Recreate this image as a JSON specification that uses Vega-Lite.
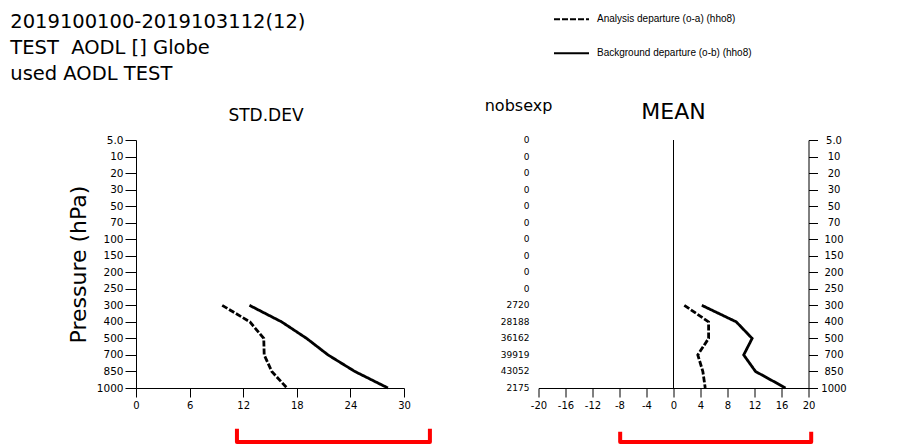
{
  "$schema": "https://vega.github.io/schema/vega-lite/v6.json",
  "background": "white",
  "padding": {"left": 10, "top": 0, "right": 5, "bottom": 0},
  "config": {
    "font": "DejaVu Sans",
    "view": {"stroke": null},
    "axis": {
      "grid": false,
      "domainColor": "black",
      "tickColor": "black",
      "labelColor": "black",
      "titleColor": "black",
      "domainWidth": 1,
      "tickWidth": 1,
      "labelFont": "DejaVu Sans",
      "labelFontSize": 10,
      "labelOverlap": false,
      "labelFlush": false,
      "tickSize": 9
    },
    "title": {"color": "black", "fontWeight": "normal", "font": "DejaVu Sans"}
  },
  "title": {
    "text": ["2019100100-2019103112(12)", "TEST\u00a0 AODL [] Globe", "used AODL TEST"],
    "anchor": "start",
    "frame": "bounds",
    "fontSize": 19.5,
    "lineHeight": 26,
    "dx": -57,
    "dy": 88
  },
  "datasets": {
    "profiles": [
      {"stat": "STD.DEV", "series": "Analysis departure (o-a) (hho8)", "pressure": 300, "value": 9.65},
      {"stat": "STD.DEV", "series": "Analysis departure (o-a) (hho8)", "pressure": 400, "value": 12.75},
      {"stat": "STD.DEV", "series": "Analysis departure (o-a) (hho8)", "pressure": 500, "value": 14.3},
      {"stat": "STD.DEV", "series": "Analysis departure (o-a) (hho8)", "pressure": 700, "value": 14.35},
      {"stat": "STD.DEV", "series": "Analysis departure (o-a) (hho8)", "pressure": 850, "value": 15.2},
      {"stat": "STD.DEV", "series": "Analysis departure (o-a) (hho8)", "pressure": 1000, "value": 16.9},
      {"stat": "STD.DEV", "series": "Background departure (o-b) (hho8)", "pressure": 300, "value": 12.7},
      {"stat": "STD.DEV", "series": "Background departure (o-b) (hho8)", "pressure": 400, "value": 16.3},
      {"stat": "STD.DEV", "series": "Background departure (o-b) (hho8)", "pressure": 500, "value": 19.1},
      {"stat": "STD.DEV", "series": "Background departure (o-b) (hho8)", "pressure": 700, "value": 21.5},
      {"stat": "STD.DEV", "series": "Background departure (o-b) (hho8)", "pressure": 850, "value": 24.5},
      {"stat": "STD.DEV", "series": "Background departure (o-b) (hho8)", "pressure": 1000, "value": 28.2},
      {"stat": "MEAN", "series": "Analysis departure (o-a) (hho8)", "pressure": 300, "value": 1.6},
      {"stat": "MEAN", "series": "Analysis departure (o-a) (hho8)", "pressure": 400, "value": 5.2},
      {"stat": "MEAN", "series": "Analysis departure (o-a) (hho8)", "pressure": 500, "value": 5.2},
      {"stat": "MEAN", "series": "Analysis departure (o-a) (hho8)", "pressure": 700, "value": 3.6},
      {"stat": "MEAN", "series": "Analysis departure (o-a) (hho8)", "pressure": 850, "value": 4.35},
      {"stat": "MEAN", "series": "Analysis departure (o-a) (hho8)", "pressure": 1000, "value": 4.7},
      {"stat": "MEAN", "series": "Background departure (o-b) (hho8)", "pressure": 300, "value": 4.2},
      {"stat": "MEAN", "series": "Background departure (o-b) (hho8)", "pressure": 400, "value": 9.3},
      {"stat": "MEAN", "series": "Background departure (o-b) (hho8)", "pressure": 500, "value": 11.65},
      {"stat": "MEAN", "series": "Background departure (o-b) (hho8)", "pressure": 700, "value": 10.4},
      {"stat": "MEAN", "series": "Background departure (o-b) (hho8)", "pressure": 850, "value": 12.15},
      {"stat": "MEAN", "series": "Background departure (o-b) (hho8)", "pressure": 1000, "value": 16.6}
    ],
    "counts": [
      {"pressure": 5, "nobs": 0},
      {"pressure": 10, "nobs": 0},
      {"pressure": 20, "nobs": 0},
      {"pressure": 30, "nobs": 0},
      {"pressure": 50, "nobs": 0},
      {"pressure": 70, "nobs": 0},
      {"pressure": 100, "nobs": 0},
      {"pressure": 150, "nobs": 0},
      {"pressure": 200, "nobs": 0},
      {"pressure": 250, "nobs": 0},
      {"pressure": 300, "nobs": 2720},
      {"pressure": 400, "nobs": 28188},
      {"pressure": 500, "nobs": 36162},
      {"pressure": 700, "nobs": 39919},
      {"pressure": 850, "nobs": 43052},
      {"pressure": 1000, "nobs": 2175}
    ],
    "header": [
      {"pressure": 5, "label": "nobsexp"}
    ],
    "brackets": [
      {"stat": "STD.DEV", "step": 1, "x": 11.3, "depth": -0.164},
      {"stat": "STD.DEV", "step": 2, "x": 11.3, "depth": -0.218},
      {"stat": "STD.DEV", "step": 3, "x": 32.9, "depth": -0.218},
      {"stat": "STD.DEV", "step": 4, "x": 32.9, "depth": -0.164},
      {"stat": "MEAN", "step": 1, "x": -7.9, "depth": -0.176},
      {"stat": "MEAN", "step": 2, "x": -7.9, "depth": -0.218},
      {"stat": "MEAN", "step": 3, "x": 20.4, "depth": -0.218},
      {"stat": "MEAN", "step": 4, "x": 20.4, "depth": -0.176}
    ]
  },
  "bounds": "flush",
  "spacing": 134.5,
  "resolve": {
    "scale": {"x": "independent", "y": "independent", "strokeDash": "shared"},
    "legend": {"strokeDash": "shared"}
  },
  "hconcat": [
    {
      "width": 268,
      "height": 248,
      "title": {"text": "STD.DEV", "fontSize": 17, "offset": 10, "dx": -4},
      "resolve": {"scale": {"y": "independent"}},
      "layer": [
        {
          "data": {"name": "profiles"},
          "transform": [{"filter": "datum.stat === 'STD.DEV'"}],
          "mark": {"type": "line", "color": "black", "strokeWidth": 2.8},
          "encoding": {
            "x": {
              "field": "value",
              "type": "quantitative",
              "scale": {"domain": [0, 30], "nice": false, "zero": false, "padding": 0},
              "axis": {"values": [0, 6, 12, 18, 24, 30], "title": null, "labelPadding": 3, "labelOverlap": false, "labelFlush": false}
            },
            "y": {
              "field": "pressure",
              "type": "ordinal",
              "scale": {"type": "point", "domain": [5, 10, 20, 30, 50, 70, 100, 150, 200, 250, 300, 400, 500, 700, 850, 1000], "padding": 0},
              "axis": {
                "title": "Pressure (hPa)",
                "titleFontSize": 22,
                "titleFontWeight": "normal",
                "titlePadding": 6,
                "tickSize": 11,
                "labelPadding": 2,
                "labelFontSize": 10.5,
                "labelExpr": "datum.value == 5 ? '5.0' : datum.label"
              }
            },
            "order": {"field": "pressure", "type": "quantitative"},
            "strokeDash": {
              "field": "series",
              "type": "nominal",
              "scale": {
                "domain": ["Analysis departure (o-a) (hho8)", "Background departure (o-b) (hho8)"],
                "range": [[6, 2], [1, 0]]
              },
              "legend": {
                "orient": "none",
                "legendX": 417,
                "legendY": -139.3,
                "title": null,
                "symbolType": "stroke",
                "symbolSize": 1225,
                "symbolStrokeWidth": 2,
                "symbolStrokeColor": "black",
                "labelFont": "Liberation Sans",
                "labelFontSize": 10,
                "labelColor": "black",
                "labelOffset": 7,
                "rowPadding": 10
              }
            }
          }
        },
        {
          "data": {"name": "brackets"},
          "transform": [{"filter": "datum.stat === 'STD.DEV'"}],
          "mark": {"type": "line", "color": "#ff0000", "strokeWidth": 4, "strokeJoin": "round"},
          "encoding": {
            "x": {
              "field": "x",
              "type": "quantitative",
              "axis": {"values": [0, 6, 12, 18, 24, 30], "title": null, "labelPadding": 3, "labelOverlap": false, "labelFlush": false}
            },
            "y": {"field": "depth", "type": "quantitative", "scale": {"domain": [0, 1], "nice": false, "zero": false}, "axis": null},
            "order": {"field": "step", "type": "quantitative"}
          }
        }
      ]
    },
    {
      "width": 270,
      "height": 248,
      "title": {"text": "MEAN", "fontSize": 22, "offset": 18, "dy": 44},
      "resolve": {"scale": {"y": "independent"}},
      "layer": [
        {
          "layer": [
            {
              "data": {"name": "profiles"},
              "transform": [{"filter": "datum.stat === 'MEAN'"}],
              "mark": {"type": "line", "color": "black", "strokeWidth": 2.8},
              "encoding": {
                "x": {
                  "field": "value",
                  "type": "quantitative",
                  "scale": {"domain": [-20, 20], "nice": false, "zero": false, "padding": 0},
                  "axis": {"values": [-20, -16, -12, -8, -4, 0, 4, 8, 12, 16, 20], "title": null, "labelPadding": 3, "labelOverlap": false, "labelSeparation": 0, "labelBound": false, "labelFlush": false, "labelExpr": "'' + datum.value"}
                },
                "y": {
                  "field": "pressure",
                  "type": "ordinal",
                  "scale": {"type": "point", "domain": [5, 10, 20, 30, 50, 70, 100, 150, 200, 250, 300, 400, 500, 700, 850, 1000], "padding": 0},
                  "axis": {
                    "orient": "right",
                    "title": null,
                    "tickSize": 9,
                    "labelAlign": "center",
                    "labelPadding": 16,
                    "labelExpr": "datum.value == 5 ? '5.0' : datum.label"
                  }
                },
                "order": {"field": "pressure", "type": "quantitative"},
                "strokeDash": {
                  "field": "series",
                  "type": "nominal",
                  "scale": {
                    "domain": ["Analysis departure (o-a) (hho8)", "Background departure (o-b) (hho8)"],
                    "range": [[6, 2], [1, 0]]
                  },
                  "legend": {
                    "orient": "none",
                    "legendX": 417,
                    "legendY": -139.3,
                    "title": null,
                    "symbolType": "stroke",
                    "symbolSize": 1225,
                    "symbolStrokeWidth": 2,
                    "symbolStrokeColor": "black",
                    "labelFont": "Liberation Sans",
                    "labelFontSize": 10,
                    "labelColor": "black",
                    "labelOffset": 7,
                    "rowPadding": 10
                  }
                }
              }
            },
            {
              "data": {"values": [{"zero": 0}]},
              "mark": {"type": "rule", "color": "black", "strokeWidth": 1},
              "encoding": {
                "x": {
                  "field": "zero",
                  "type": "quantitative",
                  "axis": {"values": [-20, -16, -12, -8, -4, 0, 4, 8, 12, 16, 20], "title": null, "labelPadding": 3, "labelOverlap": false, "labelSeparation": 0, "labelBound": false, "labelFlush": false, "labelExpr": "'' + datum.value"}
                }
              }
            },
            {
              "data": {"name": "counts"},
              "mark": {"type": "text", "align": "right", "baseline": "middle", "dx": -9, "fontSize": 9, "color": "black"},
              "encoding": {
                "x": {
                  "datum": -20,
                  "type": "quantitative",
                  "axis": {"values": [-20, -16, -12, -8, -4, 0, 4, 8, 12, 16, 20], "title": null, "labelPadding": 3, "labelOverlap": false, "labelSeparation": 0, "labelBound": false, "labelFlush": false, "labelExpr": "'' + datum.value"}
                },
                "y": {"field": "pressure", "type": "ordinal"},
                "text": {"field": "nobs", "type": "quantitative", "format": "d"}
              }
            },
            {
              "data": {"name": "header"},
              "mark": {"type": "text", "align": "center", "baseline": "alphabetic", "dx": -20, "dy": -29, "fontSize": 16, "color": "black"},
              "encoding": {
                "x": {
                  "datum": -20,
                  "type": "quantitative",
                  "axis": {"values": [-20, -16, -12, -8, -4, 0, 4, 8, 12, 16, 20], "title": null, "labelPadding": 3, "labelOverlap": false, "labelSeparation": 0, "labelBound": false, "labelFlush": false, "labelExpr": "'' + datum.value"}
                },
                "y": {"field": "pressure", "type": "ordinal"},
                "text": {"field": "label", "type": "nominal"}
              }
            }
          ]
        },
        {
          "data": {"name": "brackets"},
          "transform": [{"filter": "datum.stat === 'MEAN'"}],
          "mark": {"type": "line", "color": "#ff0000", "strokeWidth": 4, "strokeJoin": "round"},
          "encoding": {
            "x": {
              "field": "x",
              "type": "quantitative",
              "axis": {"values": [-20, -16, -12, -8, -4, 0, 4, 8, 12, 16, 20], "title": null, "labelPadding": 3, "labelOverlap": false, "labelSeparation": 0, "labelBound": false, "labelFlush": false, "labelExpr": "'' + datum.value"}
            },
            "y": {"field": "depth", "type": "quantitative", "scale": {"domain": [0, 1], "nice": false, "zero": false}, "axis": null},
            "order": {"field": "step", "type": "quantitative"}
          }
        }
      ]
    }
  ]
}
